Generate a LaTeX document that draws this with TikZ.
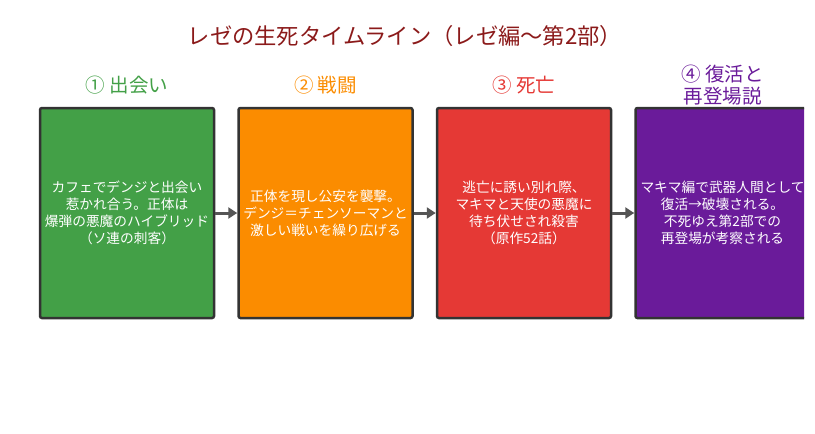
\documentclass[tikz,border=0pt]{standalone}
\usepackage{fontspec}
\setmainfont{Noto Sans CJK JP}
\usetikzlibrary{positioning,arrows.meta}
\definecolor{titlered}{HTML}{8B1A1A}
\definecolor{meetgreen}{HTML}{43A047}
\definecolor{fightorange}{HTML}{FB8C00}
\definecolor{deathred}{HTML}{E53935}
\definecolor{returnpurple}{HTML}{6A1B9A}
\definecolor{boxline}{HTML}{333333}
\definecolor{arrowgray}{HTML}{555555}

\begin{document}
\begin{tikzpicture}[x=1pt, y=-1pt,
  stage/.style={draw=boxline, line width=2.5pt, rounded corners=2pt,
    minimum width=174pt, minimum height=210pt, inner sep=0pt,
    text=white, align=center, font=\fontsize{13.7}{17}\selectfont},
  head/.style={align=center, font=\fontsize{19.5}{22}\selectfont},
  link/.style={draw=arrowgray, line width=3pt, -{Triangle[length=9pt,width=11pt]}}]
\useasboundingbox (0,0) rectangle (815,434);
\begin{scope}
\clip (0,0) rectangle (804,434);
\node[font=\fontsize{22.3}{24}\selectfont, text=titlered] (title) at (405,36)
  {レゼの生死タイムライン（レゼ編～第2部）};
% the four stages
\node[stage, fill=meetgreen] (s1) at (127,213)
  {カフェでデンジと出会い\\惹かれ合う。正体は\\爆弾の悪魔のハイブリッド\\（ソ連の刺客）};
\node[stage, fill=fightorange, right=22pt of s1] (s2)
  {正体を現し公安を襲撃。\\デンジ＝チェンソーマンと\\激しい戦いを繰り広げる};
\node[stage, fill=deathred, right=22pt of s2] (s3)
  {逃亡に誘い別れ際、\\マキマと天使の悪魔に\\待ち伏せされ殺害\\（原作52話）};
\node[stage, fill=returnpurple, right=22pt of s3] (s4)
  {マキマ編で武器人間として\\復活→破壊される。\\不死ゆえ第2部での\\再登場が考察される};
% headings
\node[head, text=meetgreen] (h1) at ([yshift=22pt]s1.north) {① 出会い};
\node[head, text=fightorange] (h2) at ([yshift=22pt]s2.north) {② 戦闘};
\node[head, text=deathred] (h3) at ([yshift=22pt]s3.north) {③ 死亡};
\node[head, text=returnpurple] (h4) at ([yshift=22pt]s4.north) {④ 復活と\\再登場説};
% arrows
\foreach \a/\b in {s1/s2, s2/s3, s3/s4}
  \draw[link] (\a.east) -- (\b.west);
\end{scope}
\end{tikzpicture}
\end{document}
